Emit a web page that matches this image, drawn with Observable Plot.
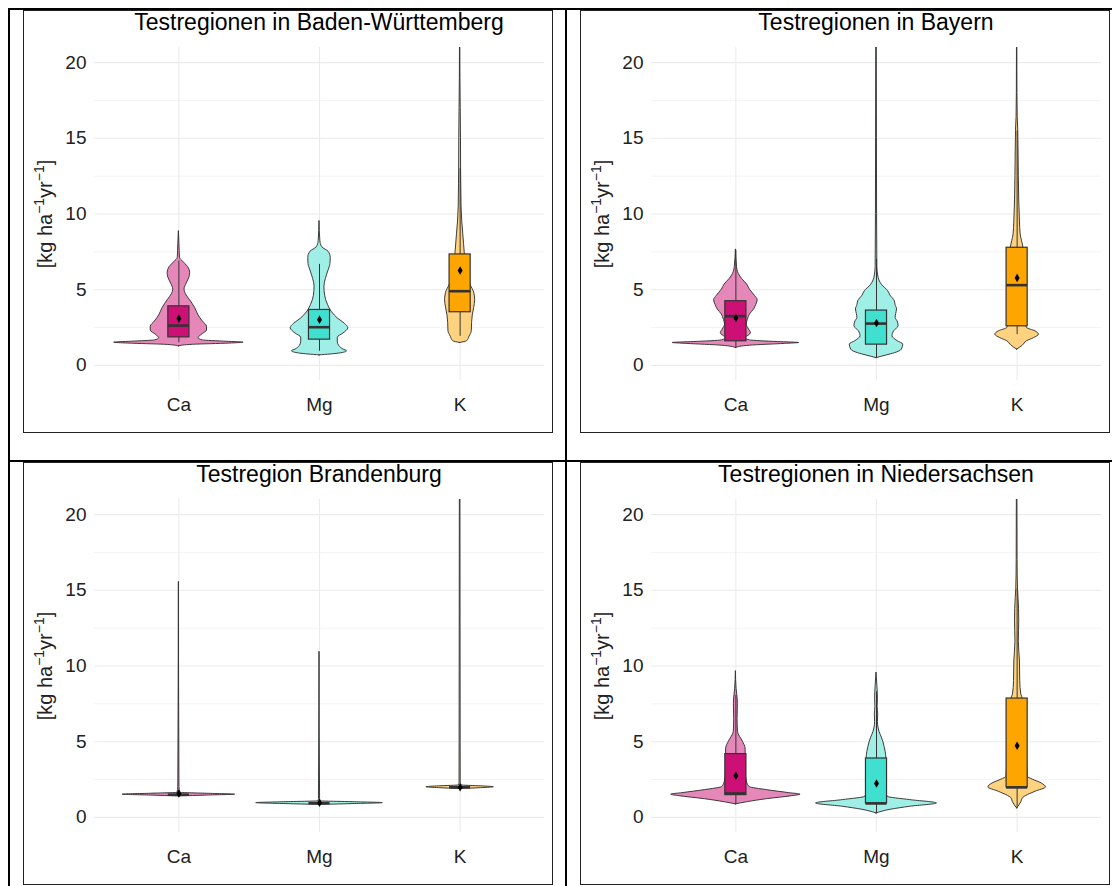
<!DOCTYPE html>
<html><head><meta charset="utf-8">
<script src="https://cdn.jsdelivr.net/npm/d3@7"></script>
<script src="https://cdn.jsdelivr.net/npm/@observablehq/plot@0.6"></script>
<style>
body{margin:0;background:#fff;font-family:"Liberation Sans",Arial,sans-serif;}
#page{position:relative;width:1114px;height:886px;overflow:hidden;background:#fff;}
.line{position:absolute;background:#000;z-index:5;}
.panel{position:absolute;box-sizing:border-box;border:1px solid #222;width:530px;height:423px;background:#fff;}
.panel svg{position:absolute;left:0;top:0;}
.title{position:absolute;top:0;left:70px;width:450px;text-align:center;font-size:23px;line-height:23px;color:#000;white-space:nowrap;z-index:2;}
</style></head><body><div id="page"></div>
<script>
// ---------- data ----------
const categories = ["Ca", "Mg", "K"];
const titles = ["Testregionen in Baden-Württemberg", "Testregionen in Bayern", "Testregion Brandenburg", "Testregionen in Niedersachsen"];
const yTicks = [0, 5, 10, 15, 20];
const yMinor = [2.5, 7.5, 12.5, 17.5];
const yLabelParts = [["[kg ha", false], ["−1", true], ["yr", false], ["−1", true], ["]", false]];
const boxFills = ["#CD1076", "#40E0D0", "#FFA500"];
const violinFills = ["#E687BA", "#9FEFE7", "#FFD27F"];

// violin profiles: [value, half-width in category units]
const bwCa = [[1.26,0],[1.36,0.1],[1.44,0.36],[1.5,0.46],[1.56,0.34],[1.65,0.17],[1.8,0.14],[2.0,0.16],[2.3,0.2],[2.55,0.2],[2.9,0.17],[3.3,0.14],[3.8,0.115],[4.3,0.08],[4.7,0.05],[5.0,0.04],[5.4,0.055],[5.8,0.075],[6.1,0.08],[6.5,0.065],[6.85,0.03],[7.1,0.008],[8.0,0.004],[8.87,0]];
const bwMg = [[0.66,0],[0.78,0.14],[0.93,0.196],[1.05,0.17],[1.28,0.14],[1.55,0.13],[1.83,0.13],[2.1,0.17],[2.45,0.205],[2.75,0.18],[3.1,0.13],[3.5,0.09],[4.0,0.06],[4.6,0.04],[5.2,0.035],[5.7,0.045],[6.2,0.062],[6.7,0.078],[7.1,0.08],[7.5,0.065],[7.8,0.02],[8.2,0.006],[9.54,0]];
const bwK = [[1.48,0],[1.6,0.05],[1.9,0.067],[2.25,0.083],[2.8,0.085],[3.3,0.09],[3.8,0.1],[4.3,0.107],[4.8,0.1],[5.3,0.075],[6.0,0.05],[6.8,0.04],[7.4,0.033],[8.0,0.028],[8.7,0.022],[9.5,0.015],[10.5,0.01],[12,0.008],[13,0.007],[15,0.006],[17,0.004],[19,0.002],[21,0.001]];
const byCa = [[1.15,0],[1.3,0.1],[1.42,0.35],[1.48,0.45],[1.54,0.3],[1.65,0.1],[1.81,0.065],[1.95,0.09],[2.14,0.107],[2.35,0.095],[2.7,0.077],[3.0,0.085],[3.36,0.1],[3.7,0.13],[4.0,0.145],[4.3,0.155],[4.6,0.135],[5.0,0.1],[5.34,0.08],[5.7,0.045],[6.05,0.02],[6.5,0.008],[7.66,0]];
const byMg = [[0.48,0],[0.65,0.07],[0.8,0.13],[1.04,0.18],[1.37,0.19],[1.6,0.15],[1.92,0.114],[2.25,0.125],[2.58,0.157],[2.9,0.15],[3.13,0.136],[3.4,0.14],[3.69,0.146],[4.0,0.135],[4.24,0.13],[4.6,0.1],[4.9,0.083],[5.3,0.04],[5.78,0.015],[6.5,0.006],[10,0.004],[15,0.003],[21,0.002]];
const byK = [[1.04,0],[1.3,0.04],[1.59,0.07],[1.8,0.12],[2.03,0.155],[2.25,0.13],[2.47,0.07],[2.8,0.06],[4,0.06],[6,0.055],[7.77,0.045],[8.2,0.035],[8.65,0.025],[9.5,0.02],[10.9,0.015],[12.5,0.012],[14.2,0.01],[15.5,0.008],[16.4,0.004],[18,0.002],[21,0.001]];
const bbCa = [[1.38,0],[1.44,0.2],[1.5,0.4],[1.56,0.2],[1.62,0.01],[2.0,0.004],[15.56,0]];
const bbMg = [[0.82,0],[0.88,0.25],[0.94,0.45],[1.0,0.25],[1.06,0.01],[1.2,0.004],[10.94,0]];
const bbK = [[1.87,0],[1.93,0.15],[1.99,0.24],[2.05,0.15],[2.11,0.01],[2.3,0.004],[21,0.002]];
const nsCa = [[0.86,0],[1.0,0.08],[1.2,0.22],[1.4,0.4],[1.5,0.46],[1.6,0.38],[1.8,0.22],[2.0,0.1],[2.3,0.08],[3.0,0.07],[4.18,0.07],[4.55,0.069],[5.0,0.05],[5.65,0.015],[6.5,0.012],[7.5,0.014],[8.07,0.01],[8.5,0.005],[9.66,0]];
const nsMg = [[0.26,0],[0.5,0.1],[0.7,0.24],[0.92,0.43],[1.14,0.24],[1.36,0.08],[1.6,0.07],[2.5,0.07],[3.89,0.07],[4.33,0.065],[5.0,0.048],[5.87,0.015],[6.3,0.01],[6.8,0.012],[7.3,0.008],[7.8,0.01],[8.7,0.006],[9.57,0]];
const nsK = [[0.59,0],[1.0,0.03],[1.25,0.04],[1.69,0.13],[1.98,0.205],[2.24,0.175],[2.5,0.11],[2.68,0.075],[4,0.07],[7.85,0.04],[8.1,0.03],[9,0.022],[10.3,0.02],[11.6,0.012],[13,0.015],[14.5,0.01],[15.1,0.006],[17,0.003],[21,0.002]];

// box stats: [q1, median, q3, whisker low, whisker high, mean]
const bwBox = [[1.85,2.63,3.9,1.5,6.9,3.09],[1.7,2.52,3.66,0.93,6.67,3.02],[3.51,4.9,7.33,1.92,13.0,6.27]];
const byBox = [[1.59,3.25,4.24,1.15,7.6,3.13],[1.37,2.76,3.62,0.5,7.0,2.8],[2.58,5.3,7.77,2.03,15.5,5.78]];
const bbBox = [[1.5,1.5,1.5,1.5,1.5,1.58],[0.94,0.94,0.94,0.94,0.94,0.97],[1.99,1.99,1.99,1.99,1.99,1.99]];
const nsBox = [[1.47,1.58,4.18,0.86,8.07,2.75],[0.92,0.92,3.89,0.26,8.3,2.24],[1.98,1.98,7.85,0.59,15.1,4.73]];

// ---------- layout ----------
const panels = [
  {title: titles[0], violins: [bwCa, bwMg, bwK], box: bwBox, left: 23, top: 10},
  {title: titles[1], violins: [byCa, byMg, byK], box: byBox, left: 580, top: 10},
  {title: titles[2], violins: [bbCa, bbMg, bbK], box: bbBox, left: 23, top: 462},
  {title: titles[3], violins: [nsCa, nsMg, nsK], box: nsBox, left: 580, top: 462}
];
const page = document.getElementById("page");
const lines = [[8,8,1104,2],[8,8,2,878],[565,8,2,878],[8,460,1104,2]];
lines.forEach(([l,t,w,h]) => {
  const d = document.createElement("div");
  d.className = "line";
  Object.assign(d.style, {left: l+"px", top: t+"px", width: w+"px", height: h+"px"});
  page.appendChild(d);
});

const yLabel = yLabelParts.map(d => d[0]).join("");
const BW = 0.075;

panels.forEach(p => {
  const div = document.createElement("div");
  div.className = "panel";
  div.style.left = p.left + "px";
  div.style.top = p.top + "px";
  const t = document.createElement("div");
  t.className = "title";
  t.textContent = p.title;
  div.appendChild(t);

  const vrows = p.violins.flatMap((arr, j) => arr.map(([v, hw]) => ({i: j + 1, v, hw})));
  const stats = p.box.map(([q1, med, q3, lo, hi, mean], j) => ({i: j + 1, q1, med, q3, lo, hi, mean}));
  const marks = [
    Plot.gridY(yMinor, {stroke: "#EBEBEB", strokeOpacity: 1, strokeWidth: 0.6}),
    Plot.gridY(yTicks, {stroke: "#EBEBEB", strokeOpacity: 1, strokeWidth: 1.1}),
    Plot.gridX([1, 2, 3], {stroke: "#EBEBEB", strokeOpacity: 1, strokeWidth: 1.1})
  ];
  categories.forEach((c, j) => {
    marks.push(Plot.areaX(vrows.filter(d => d.i === j + 1), {
      y: "v", x1: d => d.i - d.hw, x2: d => d.i + d.hw,
      fill: violinFills[j], stroke: "#333", strokeWidth: 0.95, curve: "monotone-y", clip: true
    }));
  });
  marks.push(Plot.ruleX(stats, {x: "i", y1: "lo", y2: "hi", stroke: "#333", strokeWidth: 1}));
  categories.forEach((c, j) => {
    marks.push(Plot.rect(stats.filter(d => d.i === j + 1), {
      x1: d => d.i - BW, x2: d => d.i + BW, y1: "q1", y2: "q3",
      fill: boxFills[j], stroke: "#333", strokeWidth: 1.2
    }));
  });
  marks.push(Plot.ruleY(stats, {y: "med", x1: d => d.i - BW, x2: d => d.i + BW, stroke: "#333", strokeWidth: 2.6}));
  marks.push(Plot.dot(stats, {x: "i", y: "mean", symbol: "diamond", r: 2.6, fill: "#000"}));
  marks.push(Plot.axisY({ticks: yTicks, tickSize: 0, tickPadding: 8, fontSize: 19, label: null}));
  marks.push(Plot.axisX({ticks: [1, 2, 3], tickFormat: i => categories[i - 1], tickSize: 0, tickPadding: 17, fontSize: 19, label: null}));
  marks.push(Plot.text([yLabel], {frameAnchor: "left", textAnchor: "middle", dx: -49, rotate: -90, fontSize: 20, fill: "#222"}));

  const svg = Plot.plot({
    width: 528, height: 421,
    marginLeft: 70, marginRight: 8, marginTop: 36, marginBottom: 52,
    x: {domain: [0.4, 3.6]},
    y: {domain: [-1, 21]},
    style: {fontFamily: "'Liberation Sans', Arial, sans-serif", color: "#222", background: "transparent", overflow: "visible"},
    marks
  });
  // superscripts in the axis label
  d3.select(svg).selectAll("text").filter(function() { return this.textContent === yLabel; }).each(function() {
    const el = d3.select(this);
    el.text(null);
    let prevSup = false;
    yLabelParts.forEach(([s, sup]) => {
      const ts = el.append("tspan").text(s);
      if (sup) ts.attr("font-size", 14).attr("dy", prevSup ? 0 : -8);
      else if (prevSup) ts.attr("dy", 8);
      prevSup = sup;
    });
  });
  div.appendChild(svg);
  page.appendChild(div);
});
</script>
</body></html>
